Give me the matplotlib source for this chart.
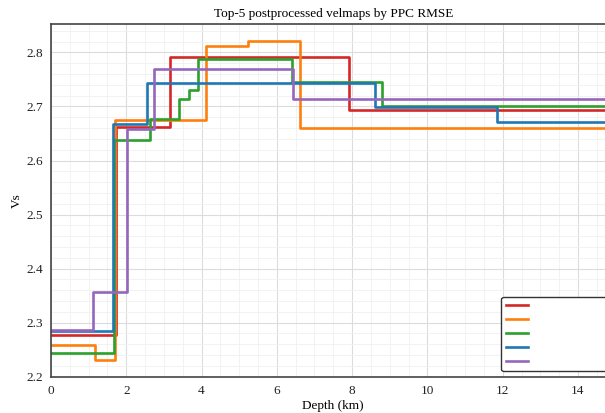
import numpy as np
import matplotlib.pyplot as plt
from matplotlib.ticker import AutoMinorLocator

plt.rcParams['font.family'] = ['Liberation Serif', 'DejaVu Serif']

X_MAX = 15.0

# step profiles: depth where each layer starts (km) and its Vs
depth_1 = [0.0, 1.72, 3.15, 7.92]
vs_1 = [2.277, 2.662, 2.791, 2.693]

depth_2 = [0.0, 1.16, 1.70, 4.11, 5.24, 6.62]
vs_2 = [2.258, 2.230, 2.675, 2.812, 2.822, 2.660]

depth_3 = [0.0, 1.67, 2.64, 3.39, 3.66, 3.90, 6.39, 8.79]
vs_3 = [2.243, 2.638, 2.677, 2.714, 2.730, 2.788, 2.746, 2.701]

depth_4 = [0.0, 1.66, 2.55, 8.62, 11.84]
vs_4 = [2.284, 2.667, 2.744, 2.699, 2.671]

depth_5 = [0.0, 1.12, 2.01, 2.74, 6.44]
vs_5 = [2.287, 2.356, 2.659, 2.770, 2.714]

profiles = [(depth_1, vs_1), (depth_2, vs_2), (depth_3, vs_3),
            (depth_4, vs_4), (depth_5, vs_5)]
colors = ['#d62728', '#ff7f0e', '#2ca02c', '#1f77b4', '#9467bd']


def main():
    fig = plt.figure(figsize=(6.05, 4.13), dpi=100)
    ax = fig.add_axes([51 / 605, 36.3 / 413, 564.6 / 605, 352.4 / 413])

    for (d, v), c in zip(profiles, colors):
        x = np.append(d, X_MAX)
        y = np.append(v, v[-1])
        ax.step(x, y, where='post', color=c, linewidth=1.9, label=' ' * 25)

    ax.set_xlim(0, X_MAX)
    ax.set_ylim(2.2, 2.852)
    ax.set_xticks(np.arange(0, 15, 2))
    ax.xaxis.set_minor_locator(AutoMinorLocator())
    ax.yaxis.set_minor_locator(AutoMinorLocator())
    ax.grid(which='major', color='#dcdcdc', linewidth=0.8)
    ax.grid(which='minor', color='#f0f0f0', linewidth=0.6)
    ax.set_axisbelow(True)
    ax.tick_params(which='both', length=0, labelsize=9.5, pad=6, colors='#222222')

    for side in ['left', 'bottom', 'top']:
        ax.spines[side].set_color('#444444')
        ax.spines[side].set_linewidth(1.2)
    ax.spines['right'].set_visible(False)

    ax.set_title('Top-5 postprocessed velmaps by PPC RMSE', fontsize=9.5, pad=5)
    ax.set_xlabel('Depth (km)', fontsize=9.5, labelpad=2)
    ax.set_ylabel('Vs', fontsize=9.5, labelpad=2)

    leg = ax.legend(loc='lower right', fontsize=8, handlelength=2.0,
                    labelspacing=0.37, borderpad=0.4, handletextpad=0.8,
                    fancybox=True, framealpha=1)
    leg.get_frame().set_edgecolor('#333333')
    leg.get_frame().set_linewidth(1.0)

    fig.savefig('out.png', dpi=100)


main()
